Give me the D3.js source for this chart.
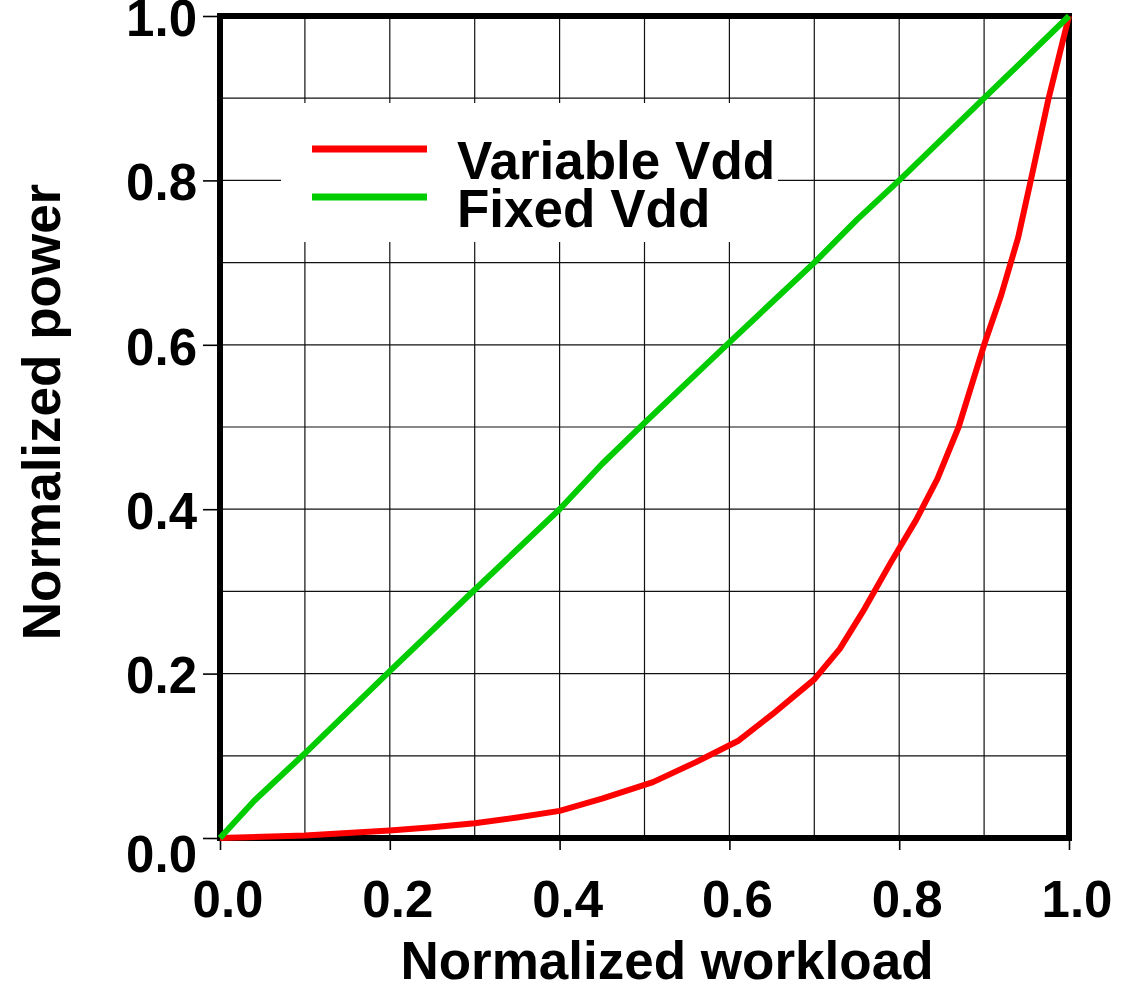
<!DOCTYPE html>
<html>
<head>
<meta charset="utf-8">
<script src="https://cdn.jsdelivr.net/npm/d3@7"></script>
<style>
  body { margin: 0; background: #fff; }
  text { font-family: "Liberation Sans", Arial, Helvetica, sans-serif; font-weight: bold; fill: #000; }
</style>
</head>
<body>
<div id="chart"></div>
<script>
// workload (x) and normalized power (y)
var variableX = [0, 0.1, 0.2, 0.25, 0.3, 0.35, 0.4, 0.45, 0.51, 0.56, 0.61, 0.65, 0.7, 0.73, 0.757, 0.79, 0.82, 0.845, 0.87, 0.9, 0.92, 0.94, 0.955, 0.976, 1.0];
var variableY = [0, 0.003, 0.009, 0.013, 0.018, 0.025, 0.033, 0.048, 0.068, 0.092, 0.118, 0.15, 0.193, 0.23, 0.275, 0.335, 0.387, 0.437, 0.5, 0.6, 0.66, 0.73, 0.8, 0.9, 1.0];

var fixedX = [0, 0.04, 0.1, 0.2, 0.3, 0.4, 0.45, 0.5, 0.6, 0.7, 0.75, 0.8, 0.9, 1.0];
var fixedY = [0, 0.045, 0.103, 0.203, 0.302, 0.4, 0.455, 0.505, 0.603, 0.7, 0.752, 0.8, 0.9, 1.0];

var seriesNames = ["Variable Vdd", "Fixed Vdd"];
var seriesColors = ["#ff0000", "#00cc00"];
var tickValues = [0, 0.2, 0.4, 0.6, 0.8, 1.0];
var gridValues = [0.1, 0.2, 0.3, 0.4, 0.5, 0.6, 0.7, 0.8, 0.9];

var W = 1124, H = 984;
var margin = {top: 16, right: 55, bottom: 146, left: 220};
var width = W - margin.left - margin.right;   // 849
var height = H - margin.top - margin.bottom;  // 822

var svg = d3.select("#chart").append("svg")
    .attr("width", W)
    .attr("height", H);

var g = svg.append("g").attr("transform", "translate(" + margin.left + "," + margin.top + ")");

var x = d3.scaleLinear().domain([0, 1]).range([0, width]);
var y = d3.scaleLinear().domain([0, 1]).range([height, 0]);

//grid
g.append("g").selectAll("line")
  .data(gridValues)
  .enter().append("line")
    .attr("x1", function(d) { return x(d); })
    .attr("x2", function(d) { return x(d); })
    .attr("y1", 0).attr("y2", height)
    .attr("stroke", "#111").attr("stroke-width", 1.2);

g.append("g").selectAll("line")
  .data(gridValues)
  .enter().append("line")
    .attr("y1", function(d) { return y(d); })
    .attr("y2", function(d) { return y(d); })
    .attr("x1", 0).attr("x2", width)
    .attr("stroke", "#111").attr("stroke-width", 1.2);

// axes - ticks only, labels placed by hand below
var xAxis = g.append("g")
    .attr("transform", "translate(0," + (height + 3) + ")")
    .call(d3.axisBottom(x).tickValues(tickValues).tickSize(9).tickFormat(""));
var yAxis = g.append("g")
    .attr("transform", "translate(-3,0)")
    .call(d3.axisLeft(y).tickValues(tickValues).tickSize(14).tickFormat(""));
[xAxis, yAxis].forEach(function(a) {
  a.select(".domain").remove();
  a.selectAll(".tick line").attr("stroke", "#000").attr("stroke-width", 1.6);
});

var fmt = d3.format(".1f");

g.append("g").selectAll("text")
  .data(tickValues)
  .enter().append("text")
    .attr("x", function(d) { return x(d) + 8; })
    .attr("y", height + 79)
    .attr("text-anchor", "middle")
    .style("font-size", "51px")
    .text(fmt);

g.append("g").selectAll("text")
  .data(tickValues)
  .enter().append("text")
    .attr("x", -23)
    .attr("y", function(d) { return y(d) + (d === 0 ? 16 : 2); })
    .attr("dy", "0.35em")
    .attr("text-anchor", "end")
    .style("font-size", "51px")
    .text(fmt);

// axis titles
svg.append("text")
    .attr("x", 667)
    .attr("y", 979)
    .attr("text-anchor", "middle")
    .style("font-size", "53px")
    .text("Normalized workload");

svg.append("text")
    .attr("transform", "translate(60,412) rotate(-90)")
    .attr("text-anchor", "middle")
    .style("font-size", "53px")
    .text("Normalized power");

// legend box (covers grid)
var legend = svg.append("g").attr("transform", "translate(281,103)");
legend.append("rect")
    .attr("width", 497).attr("height", 139)
    .attr("fill", "#fff");

// frame
g.append("rect")
    .attr("width", width).attr("height", height)
    .attr("fill", "none")
    .attr("stroke", "#000")
    .attr("stroke-width", 6);

// curves
var line = d3.line()
    .x(function(d) { return x(d[0]); })
    .y(function(d) { return y(d[1]); });

var series = [d3.zip(variableX, variableY), d3.zip(fixedX, fixedY)];

g.selectAll(".curve")
  .data(series)
  .enter().append("path")
    .attr("class", "curve")
    .attr("d", line)
    .attr("fill", "none")
    .attr("stroke", function(d, i) { return seriesColors[i]; })
    .attr("stroke-width", 6)
    .attr("stroke-linejoin", "round");

var item = legend.selectAll(".item")
  .data(seriesNames)
  .enter().append("g")
    .attr("class", "item")
    .attr("transform", function(d, i) { return "translate(0," + (46 + i * 48) + ")"; });

item.append("line")
    .attr("x1", 31).attr("x2", 146)
    .attr("stroke", function(d, i) { return seriesColors[i]; })
    .attr("stroke-width", 7);

item.append("text")
    .attr("x", 176)
    .attr("y", 30)
    .style("font-size", "53px")
    .text(function(d) { return d; });
</script>
</body>
</html>
